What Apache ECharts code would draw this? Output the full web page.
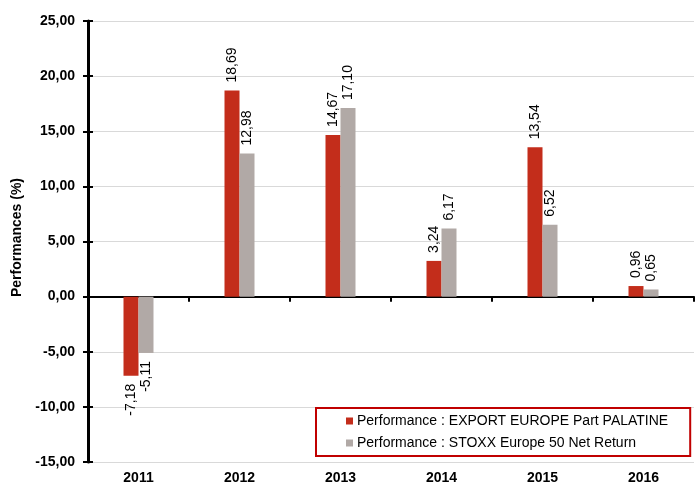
<!DOCTYPE html>
<html>
<head>
<meta charset="utf-8">
<script src="https://cdn.jsdelivr.net/npm/echarts@6/dist/echarts.min.js"></script>
<style>
  html, body { margin: 0; padding: 0; background: #fff; }
  #chart { width: 696px; height: 486px; }
</style>
</head>
<body>
<div id="chart"></div>
<script>
// data
var years = ['2011', '2012', '2013', '2014', '2015', '2016']
var palatine = [-7.18, 18.69, 14.67, 3.24, 13.54, 0.96]
var stoxx = [-5.11, 12.98, 17.10, 6.17, 6.52, 0.65]
var seriesNames = [
  'Performance : EXPORT EUROPE Part PALATINE',
  'Performance : STOXX Europe 50 Net Return'
]

var FONT = '"Liberation Sans", Arial, sans-serif'
var fmt = function (v) { return v.toFixed(2).replace('.', ',') }

// negative bars get their label below the end of the bar
var withLabels = function (arr) {
  return arr.map(function (v) {
    return {
      value: v,
      label: v < 0
        ? { position: 'bottom', align: 'right' }
        : { position: 'top', align: 'left' }
    }
  })
}

var barLabel = {
  show: true,
  rotate: 90,
  distance: 8,
  verticalAlign: 'middle',
  color: '#000',
  fontFamily: FONT,
  fontSize: 14,
  formatter: function (p) { return fmt(p.value) }
}

var option = {
  animation: false,
  grid: { left: 88, top: 21, right: 2, bottom: 24, containLabel: false },
  legend: {
    orient: 'vertical',
    left: 316,
    top: 408,
    data: seriesNames,
    itemWidth: 7,
    itemHeight: 7,
    itemGap: 8,
    padding: [6, 22, 6, 30],
    borderColor: '#c00000',
    borderWidth: 2,
    backgroundColor: '#fff',
    icon: 'rect',
    textStyle: { fontFamily: FONT, fontSize: 14, color: '#000', padding: [0, 0, 0, -1] }
  },
  xAxis: [
    {
      type: 'category',
      data: years,
      axisLine: { onZero: true, lineStyle: { color: '#000', width: 2 } },
      axisTick: { show: true, length: 5, lineStyle: { color: '#000', width: 2 } },
      axisLabel: { show: false }
    },
    {
      type: 'category',
      data: years,
      axisLine: { show: false, onZero: true },
      axisTick: { show: true, inside: true, length: 5, lineStyle: { color: '#000', width: 2 } },
      axisLabel: { show: false }
    },
    {
      type: 'category',
      data: years,
      position: 'bottom',
      axisLine: { show: false, onZero: false },
      axisTick: { show: false },
      axisLabel: { fontFamily: FONT, fontSize: 14, fontWeight: 'bold', color: '#000', margin: 9 }
    }
  ],
  yAxis: [
    {
      type: 'value',
      min: -15,
      max: 25,
      interval: 5,
      name: 'Performances (%)',
      nameLocation: 'middle',
      nameGap: 60,
      nameTextStyle: { fontFamily: FONT, fontSize: 14, fontWeight: 'bold', color: '#000', padding: [0, 0, 0, 8] },
      axisLine: { show: true, lineStyle: { color: '#000', width: 3 } },
      axisTick: { show: true, length: 5, lineStyle: { color: '#000', width: 2 } },
      splitLine: { show: true, lineStyle: { color: '#d9d9d9', width: 1 } },
      axisLabel: {
        fontFamily: FONT, fontSize: 14, fontWeight: 'bold', color: '#000', margin: 13,
        formatter: fmt
      }
    },
    {
      type: 'value',
      min: -15,
      max: 25,
      interval: 5,
      position: 'left',
      axisLine: { show: false },
      axisTick: { show: true, inside: true, length: 5, lineStyle: { color: '#000', width: 2 } },
      splitLine: { show: false },
      axisLabel: { show: false }
    }
  ],
  series: [
    {
      name: seriesNames[0],
      type: 'bar',
      barWidth: 15,
      barGap: 0,
      itemStyle: { color: '#c32d1b' },
      label: barLabel,
      data: withLabels(palatine)
    },
    {
      name: seriesNames[1],
      type: 'bar',
      barWidth: 15,
      barGap: 0,
      itemStyle: { color: '#b1a9a6' },
      label: barLabel,
      data: withLabels(stoxx)
    }
  ]
}

var chart = echarts.init(document.getElementById('chart'))
chart.setOption(option)
</script>
</body>
</html>
